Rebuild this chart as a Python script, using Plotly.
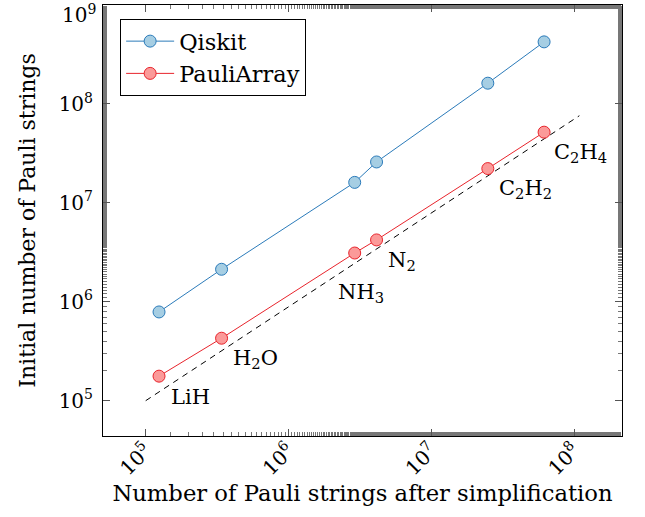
import numpy as np
import plotly.graph_objects as go

molecules = ["LiH", "H<sub>2</sub>O", "NH<sub>3</sub>", "N<sub>2</sub>", "C<sub>2</sub>H<sub>2</sub>", "C<sub>2</sub>H<sub>4</sub>"]
simplified = [1.24e5, 3.4e5, 2.91e6, 4.14e6, 2.49e7, 6.17e7]
qiskit = [7.89e5, 2.13e6, 1.61e7, 2.59e7, 1.62e8, 4.24e8]
pauliarray = [1.77e5, 4.28e5, 3.11e6, 4.22e6, 2.22e7, 5.18e7]
ref_x = [1e5, 1.09e8]
ref_y = [1e5, 7.6e7]
label_dx = [10, 9, -19, 9, 9, 8]
label_dy = [7, 6, 25, 6, 5, 6]

FONT = "DejaVu Serif"

fig = go.Figure()
fig.add_trace(go.Scatter(x=ref_x, y=ref_y, mode="lines", showlegend=False,
                         line=dict(color="black", width=1, dash="6px,5px")))
fig.add_trace(go.Scatter(x=simplified, y=qiskit, mode="lines+markers", name="Qiskit",
                         line=dict(color="#2b7bba", width=1),
                         marker=dict(size=12, color="#a6cee3", line=dict(color="#2b7bba", width=1))))
fig.add_trace(go.Scatter(x=simplified, y=pauliarray, mode="lines+markers", name="PauliArray",
                         line=dict(color="#e8242c", width=1),
                         marker=dict(size=12, color="#fb9a99", line=dict(color="#e8242c", width=1))))

for m, xv, yv, dx, dy in zip(molecules, simplified, pauliarray, label_dx, label_dy):
    fig.add_annotation(x=np.log10(xv), y=np.log10(yv), text=m, showarrow=False,
                       xanchor="left", yanchor="top", xshift=dx, yshift=-dy,
                       font=dict(family=FONT, size=21, color="black"))

x_tickvals = [1e5, 1e6, 1e7, 1e8]
x_ticktext = ["10<sup>5</sup>", "10<sup>6</sup>", "10<sup>7</sup>", "10<sup>8</sup>"]
y_tickvals = [1e5, 1e6, 1e7, 1e8, 1e9]
y_ticktext = ["10<sup>5</sup>", "10<sup>6</sup>", "10<sup>7</sup>", "10<sup>8</sup>", ""]
top_label = "10<sup>9</sup>"

axis_common = dict(type="log", showgrid=False, zeroline=False, showline=True, linecolor="black",
                   linewidth=1, mirror="allticks", ticks="inside", ticklen=7, tickcolor="#555",
                   automargin=False, ticklabeloverflow="allow",
                   tickfont=dict(family=FONT, size=20, color="black"),
                   minor=dict(ticks="inside", ticklen=4, tickcolor="#777", showgrid=False))

fig.update_xaxes(**axis_common, range=[4.701, 8.336], tickangle=-45,
                 tickvals=x_tickvals, ticktext=x_ticktext, ticklabelstandoff=-6,
                 title=dict(text="Number of Pauli strings after simplification",
                            font=dict(family=FONT, size=22.7, color="black"), standoff=6))
fig.update_yaxes(**axis_common, range=[4.643, 9.0],
                 tickvals=y_tickvals, ticktext=y_ticktext, ticklabelstandoff=5,
                 title=dict(text="Initial number of Pauli strings",
                            font=dict(family=FONT, size=22, color="black"), standoff=16))

# top tick label of the y axis (kept inside the figure, as in the reference)
fig.add_annotation(xref="paper", x=0, y=np.log10(y_tickvals[-1]), text=top_label, showarrow=False,
                   xanchor="right", yanchor="top", xshift=-5, yshift=6,
                   font=dict(family=FONT, size=20, color="black"))

fig.update_layout(width=645, height=517, margin=dict(l=103, r=23, t=5, b=81),
                  paper_bgcolor="white", plot_bgcolor="white",
                  legend=dict(x=0.033, y=0.9675, xanchor="left", yanchor="top",
                              bordercolor="black", borderwidth=1, bgcolor="white",
                              font=dict(family=FONT, size=22.5, color="black"),
                              itemwidth=48, tracegroupgap=0))
fig.write_html("out.html", config={"displayModeBar": False},
               post_script="document.body.style.margin='0';document.body.style.overflow='hidden';")
